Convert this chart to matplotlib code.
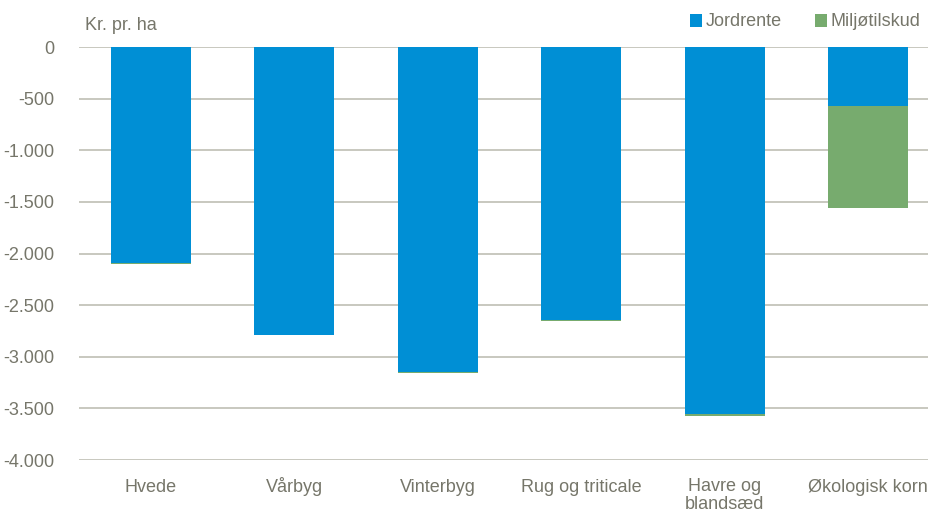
import matplotlib.pyplot as plt
from matplotlib import font_manager
from matplotlib.ticker import FuncFormatter

categories = ["Hvede", "Vårbyg", "Vinterbyg", "Rug og triticale", "Havre og\nblandsæd", "Økologisk korn"]
jordrente = [-2090, -2785, -3150, -2640, -3555, -570]
miljotilskud = [-12, -8, -5, -15, -18, -985]
yticks = [0, -500, -1000, -1500, -2000, -2500, -3000, -3500, -4000]

names = {f.name for f in font_manager.fontManager.ttflist}
family = ["Liberation Sans Narrow", "DejaVu Sans"] if "Liberation Sans Narrow" in names else ["Liberation Sans", "DejaVu Sans"]
plt.rcParams["font.family"] = family

text_col = "#76766a"
blue = "#008fd5"
green = "#77ab6e"
fs = 13

fig = plt.figure(figsize=(9.29, 5.17), dpi=100)
ax = fig.add_axes([79 / 929, 1 - 460 / 517, (940 - 79) / 929, 413 / 517])

x = range(len(categories))
ax.bar(x, jordrente, width=0.557, color=blue, label="Jordrente", zorder=3)
ax.bar(x, miljotilskud, width=0.557, bottom=jordrente, color=green, label="Miljøtilskud", zorder=3)

ax.set_xlim(-0.5, len(categories) - 0.5)
ax.set_ylim(-4000, 0)
ax.set_yticks(yticks)
ax.yaxis.set_major_formatter(FuncFormatter(lambda v, p: f"{int(v):,}".replace(",", ".")))
ax.set_xticks(list(x))
ax.set_xticklabels([])
ax.tick_params(axis="both", length=0, labelsize=fs, colors=text_col)
ax.tick_params(axis="y", pad=18)
ax.grid(axis="y", color="#c4c4ba", linewidth=1.3, zorder=0)
for s in ax.spines.values():
    s.set_visible(False)

# category labels: single lines on a common baseline, the two-line one hung from the top
for i, name in enumerate(categories):
    if "\n" in name:
        ax.text(i, -18 / 413, name, transform=ax.get_xaxis_transform(), ha="center", va="top",
                fontsize=fs, color=text_col, linespacing=1.05, clip_on=False)
    else:
        ax.text(i, -32 / 413, name, transform=ax.get_xaxis_transform(), ha="center", va="baseline",
                fontsize=fs, color=text_col, clip_on=False)

fig.text(85 / 929, 1 - 25 / 517, "Kr. pr. ha", fontsize=fs, color=text_col, va="center")

leg = fig.legend(loc="center right", bbox_to_anchor=(0.995, 1 - 22 / 517), ncol=2, frameon=False,
                 fontsize=fs, handlelength=0.7, handleheight=0.7, handletextpad=0.2,
                 columnspacing=1.8, borderaxespad=0, borderpad=0.2)
for t in leg.get_texts():
    t.set_color(text_col)

fig.savefig("out.png", dpi=100)
